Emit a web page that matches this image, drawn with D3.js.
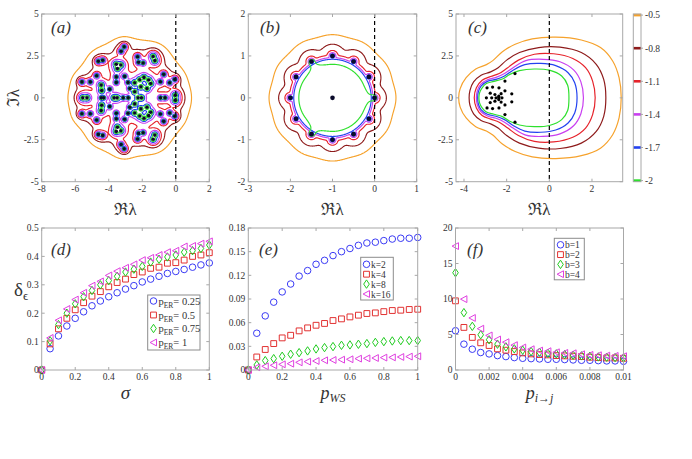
<!DOCTYPE html>
<html><head><meta charset="utf-8">
<script src="https://cdn.jsdelivr.net/npm/d3@7"></script>
<style>
body{margin:0;background:#fff}
svg{display:block}
svg text{font-family:"Liberation Serif","Times New Roman","DejaVu Serif",serif;fill:#333}
</style>
</head><body>
<svg id="c" width="692" height="459" font-family="Liberation Serif, Times New Roman, DejaVu Serif, serif"></svg>
<script>
// ---------------- DATA ----------------
const levels = [-0.5, -0.8, -1.1, -1.4, -1.7, -2];
const levelLabels = ["-0.5", "-0.8", "-1.1", "-1.4", "-1.7", "-2"];

// panel (a): eigenvalues (upper half; mirrored) and real ones
const eigAUpper = [
  [-3.08,3.04],[-3.26,2.78],[-4.62,2.18],[-4.36,2.24],
  [-2.28,2.45],[-2.22,2.12],[-1.95,2.08],
  [-5.6,0.95],[-5.1,0.95],[-4.72,1.32],[-3.94,0.52],
  [-3.55,1.25],[-3.55,0.92],[-3.05,1.28],[-2.85,0.92],[-2.74,0.56],
  [-0.72,1.4],[-0.36,0.9],[-0.06,1.1],[-0.92,0.96]
];
const eigAReal = [-4.45,-4.3,-3.14,-2.84,-0.91,-0.64];
// eigenvalues sitting inside the green (most sensitive) clusters
const eigAClusterUpper = [
  [-3.55,2.0],[-3.28,1.96],[-3.48,1.75],[-1.35,2.47],[-1.25,2.22],
  [-4.45,0.76],[-4.42,0.44],[-2.45,0.9],[-2.45,0.36],[-2.15,1.08],[-1.9,1.22],
  [-1.62,1.06],[-2.08,0.66],[-1.72,0.56],[-1.5,0.86],[-0.03,0.15]
];
const eigAClusterReal = [-5.55,-5.3,-3.68,-3.5,-2.25,-2.05];
const aClusterWeight = 1.45;
// field exponent per level, and right-side real-axis crossings (outer levels) / radii (inner levels)
const aPow = [2, 2.5, 3, 4, 4, 4];
const aCross = [0.94, 0.55, 0.38];
const aInner = [0.19, 0.13, 0.088];

// panel (b): eigenvalues
const eigB = [
  [-1,0],[0,0],[-0.134,0.5],[-0.5,0.866],[-1,1],[-1.5,0.866],[-1.866,0.5],
  [-2,0],[-1.866,-0.5],[-1.5,-0.866],[-1,-1],[-0.5,-0.866],[-0.134,-0.5]
];
const eigBGreen = [[0,0],[-1.5,0.866],[-1.5,-0.866]];
const bCenter = [-1, 0];
const bDisk = [1.32, 1.13, 1.02, 0.96, 0.92, 0.8];
const bRad = [0.45, 0.27, 0.13, 0.08, 0.05, 0.03];

// panel (c): contour outlines (upper half, right to left; mirrored)
const cContours = [
  [[3.37,0],[3.27,1.2],[2.97,2.2],[2.4,3.0],[1.5,3.45],[0.3,3.62],[-0.8,3.52],[-1.6,3.2],[-2.2,2.75],[-2.65,2.22],[-2.95,1.98],[-3.45,1.72],[-3.9,1.2],[-4.18,0.55],[-4.25,0]],
  [[2.65,0],[2.55,1.1],[2.2,2.0],[1.5,2.7],[0.5,3.02],[-0.5,3.0],[-1.4,2.7],[-2.0,2.25],[-2.4,1.8],[-2.75,1.55],[-3.2,1.35],[-3.55,0.95],[-3.72,0.45],[-3.76,0]],
  [[2.15,0],[2.03,1.0],[1.7,1.8],[1.1,2.35],[0.2,2.63],[-0.7,2.6],[-1.45,2.25],[-1.95,1.8],[-2.35,1.45],[-2.75,1.27],[-3.15,1.05],[-3.42,0.6],[-3.52,0]],
  [[1.6,0],[1.48,0.95],[1.15,1.65],[0.5,2.15],[-0.3,2.3],[-1.1,2.22],[-1.7,1.8],[-2.1,1.45],[-2.5,1.22],[-2.9,1.08],[-3.22,0.8],[-3.38,0.4],[-3.42,0]],
  [[1.3,0],[1.19,0.9],[0.88,1.5],[0.3,1.92],[-0.4,2.05],[-1.15,1.98],[-1.7,1.65],[-2.1,1.3],[-2.5,1.1],[-2.9,0.98],[-3.2,0.7],[-3.33,0.35],[-3.36,0]],
  [[0.92,0],[0.86,0.75],[0.58,1.3],[0.0,1.65],[-0.7,1.72],[-1.4,1.62],[-1.85,1.4],[-2.2,1.12],[-2.6,0.98],[-2.95,0.85],[-3.15,0.6],[-3.27,0.3],[-3.3,0]]
];
const eigCUpper = [[-2.92,0.6],[-2.66,0.64],[-2.36,0.6],[-2.77,0.28],[-2.55,0.2],[-2.26,0.25],[-1.76,0.24],[-2.08,0.42],[-2.08,1.0],[-1.61,1.45],[-2.37,0.1]];
const eigCReal = [-2.95,-2.7,-2.5,-2.37,-2.22];

// panel (d)
const sigma = d3.range(21).map(i => i/20);
const dSeries = [
  [0,0.075,0.12,0.155,0.182,0.205,0.226,0.243,0.258,0.272,0.285,0.297,0.31,0.32,0.33,0.34,0.347,0.354,0.362,0.37,0.377],
  [0,0.092,0.145,0.182,0.212,0.237,0.26,0.276,0.293,0.308,0.32,0.336,0.345,0.358,0.362,0.376,0.378,0.387,0.4,0.405,0.413],
  [0,0.103,0.16,0.2,0.233,0.258,0.28,0.3,0.315,0.33,0.345,0.355,0.365,0.38,0.39,0.398,0.405,0.415,0.42,0.428,0.44],
  [0,0.113,0.175,0.215,0.248,0.272,0.297,0.312,0.333,0.348,0.36,0.372,0.387,0.395,0.405,0.415,0.42,0.435,0.437,0.445,0.453]
];
const dLegend = ["0.25","0.5","0.75","1"];

// panel (e)
const pws = d3.range(21).map(i => i/20);
const eSeries = [
  [0,0.0466,0.0686,0.086,0.099,0.109,0.119,0.126,0.134,0.139,0.145,0.15,0.154,0.158,0.161,0.162,0.164,0.166,0.167,0.167,0.168],
  [0,0.0165,0.026,0.0335,0.0407,0.044,0.0496,0.0534,0.0567,0.059,0.0627,0.0648,0.0673,0.0695,0.0716,0.0724,0.074,0.0754,0.0758,0.0767,0.077],
  [0,0.0064,0.0119,0.0144,0.0174,0.02,0.022,0.0242,0.0267,0.0284,0.0297,0.0313,0.0318,0.0326,0.0335,0.035,0.036,0.0368,0.0373,0.0373,0.0373],
  [0,0.0034,0.0047,0.006,0.0072,0.008,0.0097,0.0106,0.0114,0.0123,0.0127,0.0131,0.0136,0.0144,0.0148,0.0152,0.0157,0.016,0.0165,0.017,0.0174]
];
const eLegend = ["k=2","k=4","k=8","k=16"];

// panel (f)
const pij = d3.range(21).map(i => i*0.0005);
const fSeries = [
  [5.53,3.64,2.93,2.46,2.27,2.03,1.89,1.75,1.65,1.6,1.56,1.51,1.51,1.47,1.42,1.37,1.37,1.32,1.28,1.28,1.23],
  [9.74,6.0,4.59,3.83,3.45,2.98,2.79,2.6,2.41,2.27,2.17,2.13,2.03,1.99,1.94,1.89,1.8,1.75,1.7,1.7,1.65],
  [13.7,8.08,6.15,4.96,4.26,3.64,3.26,2.98,2.79,2.6,2.5,2.36,2.27,2.17,2.08,1.99,1.94,1.84,1.8,1.75,1.7],
  [17.45,9.98,7.33,5.82,4.87,4.3,3.92,3.5,3.17,2.93,2.74,2.65,2.5,2.41,2.36,2.22,2.13,2.08,2.03,1.99,1.94]
];
const fLegend = ["b=1","b=2","b=3","b=4"];

// ---------------- STYLE ----------------
const levelColors = ["#f6a22c","#8e1b1b","#e6232b","#c93ff0","#2342f0","#2ee02e"];
const serColors = ["#3b3bf5","#e23232","#20cc20","#e040e0"];
const boxColor = "#a8a8a8";
const FONT = "Liberation Serif, Times New Roman, DejaVu Serif, serif";

const svg = d3.select("#c");
function txt(g, x, y, s, size, opts={}) {
  const t = g.append("text").attr("x",x).attr("y",y).attr("font-size",size).attr("font-family",FONT).attr("fill",opts.fill||"#333");
  if (opts.anchor) t.attr("text-anchor",opts.anchor);
  if (opts.italic) t.attr("font-style","italic");
  if (s!==null) t.text(s);
  return t;
}

function frame(g, xs, ys, xt, yt, fx, fy) {
  const [x0,x1] = xs.range(), [yb,yt0] = ys.range();
  g.append("rect").attr("x",x0).attr("y",yt0).attr("width",x1-x0).attr("height",yb-yt0)
    .attr("fill","none").attr("stroke",boxColor).attr("stroke-width",1);
  xt.forEach((v,i) => {
    const x = xs(v);
    g.append("line").attr("x1",x).attr("x2",x).attr("y1",yb).attr("y2",yb-3).attr("stroke",boxColor);
    g.append("line").attr("x1",x).attr("x2",x).attr("y1",yt0).attr("y2",yt0+3).attr("stroke",boxColor);
    txt(g, x, yb+10.2, fx[i], 9.5, {anchor:"middle"});
  });
  yt.forEach((v,i) => {
    const y = ys(v);
    g.append("line").attr("x1",x0).attr("x2",x0+3).attr("y1",y).attr("y2",y).attr("stroke",boxColor);
    g.append("line").attr("x1",x1).attr("x2",x1-3).attr("y1",y).attr("y2",y).attr("stroke",boxColor);
    txt(g, x0-3, y+3.3, fy[i], 9.5, {anchor:"end"});
  });
}

function contourPath(g, xs, ys, xd, yd, n, vals, t, color, clipId) {
  const dx = (xd[1]-xd[0])/n, dy = (yd[1]-yd[0])/n;
  const proj = d3.geoTransform({point(px,py){ this.stream.point(xs(xd[0]+px*dx), ys(yd[1]-py*dy)); }});
  const c = d3.contours().size([n,n]).thresholds([t])(vals)[0];
  g.append("path").attr("d", d3.geoPath(proj)(c)).attr("fill","none").attr("stroke",color)
    .attr("stroke-width",1.15).attr("clip-path",`url(#${clipId})`);
}

function addClip(id, xs, ys) {
  const [x0,x1] = xs.range(), [yb,yt0] = ys.range();
  svg.append("clipPath").attr("id",id).append("rect").attr("x",x0).attr("y",yt0).attr("width",x1-x0).attr("height",yb-yt0);
}

function dashedZero(g, xs, ys) {
  const [yb,yt0] = ys.range();
  g.append("line").attr("x1",xs(0)).attr("x2",xs(0)).attr("y1",yt0).attr("y2",yb)
    .attr("stroke","#000").attr("stroke-width",1.2).attr("stroke-dasharray","4,3");
}

// weighted p-norm soft distance to a set of points [x,y,w]
function softDist(x, y, pts, p) {
  let s = 0;
  for (const e of pts) {
    const ux=x-e[0], uy=y-e[1]; const r2=ux*ux+uy*uy+1e-12;
    const w = e[2]===undefined ? 1 : e[2];
    s += Math.pow(r2/(w*w), -p/2);
  }
  return Math.pow(s, -1/p);
}

// ---------------- PANEL (a) ----------------
{
  const xs = d3.scaleLinear().domain([-8,2]).range([41.7,209.3]);
  const ys = d3.scaleLinear().domain([-5,5]).range([181.7,14]);
  const g = svg.append("g");
  addClip("clipA", xs, ys);
  const mirror = (up, re, w) => up.map(d=>[d[0],d[1],w]).concat(up.map(d=>[d[0],-d[1],w])).concat(re.map(x=>[x,0,w]));
  const eigA = mirror(eigAUpper, eigAReal, 1).concat(mirror(eigAClusterUpper, eigAClusterReal, aClusterWeight));
  const xd=[-7.5,1.8], yd=[-4.65,4.65], n=260;
  const ddx=(xd[1]-xd[0])/n, ddy=(yd[1]-yd[0])/n;
  const pset = Array.from(new Set(aPow));
  const grids = {};
  pset.forEach(p => grids[p] = new Float64Array(n*n));
  for (let j=0;j<n;j++) for (let i=0;i<n;i++) {
    const x=xd[0]+(i+0.5)*ddx, y=yd[1]-(j+0.5)*ddy;
    const sums = pset.map(()=>0);
    for (const e of eigA) {
      const ux=x-e[0], uy=y-e[1]; const r2=(ux*ux+uy*uy+1e-12)/(e[2]*e[2]);
      const r=Math.sqrt(r2), rq=Math.sqrt(r);
      pset.forEach((p,m) => {
        sums[m] += p===2 ? 1/r2 : p===2.5 ? 1/(r2*rq) : p===3 ? 1/(r2*r) : 1/(r2*r2);
      });
    }
    pset.forEach((p,m) => grids[p][j*n+i] = -Math.pow(sums[m], -1/p));
  }
  aPow.forEach((p,k) => {
    const thr = k < aCross.length ? softDist(aCross[k], 0, eigA, p) : aInner[k-aCross.length];
    contourPath(g, xs, ys, xd, yd, n, grids[p], -thr, levelColors[k], "clipA");
  });
  dashedZero(g, xs, ys);
  g.selectAll("circle.e").data(eigA).join("circle").attr("cx",d=>xs(d[0])).attr("cy",d=>ys(d[1])).attr("r",1.8).attr("fill","#0a0a2a");
  frame(g, xs, ys, [-8,-6,-4,-2,0,2], [-5,-2.5,0,2.5,5], ["-8","-6","-4","-2","0","2"], ["-5","-2.5","0","2.5","5"]);
  txt(g, 51, 33, "(a)", 17, {italic:true, fill:"#222"});
}

// ---------------- PANEL (b) ----------------
{
  const xs = d3.scaleLinear().domain([-3,1]).range([248.3,416.7]);
  const ys = d3.scaleLinear().domain([-2,2]).range([181.7,14]);
  const g = svg.append("g");
  addClip("clipB", xs, ys);
  const xd=[-3,1], yd=[-2,2], n=280;
  const ddx=(xd[1]-xd[0])/n, ddy=(yd[1]-yd[0])/n;
  const eg = new Float64Array(n*n), gg = new Float64Array(n*n), rg = new Float64Array(n*n);
  for (let j=0;j<n;j++) for (let i=0;i<n;i++){
    const x=xd[0]+(i+0.5)*ddx, y=yd[1]-(j+0.5)*ddy;
    eg[j*n+i]=softDist(x,y,eigB,3.5);
    gg[j*n+i]=softDist(x,y,eigBGreen,6);
    rg[j*n+i]=Math.hypot(x-bCenter[0], y-bCenter[1]);
  }
  function smin(a,b,k){ const h=Math.max(k-Math.abs(a-b),0)/k; return Math.min(a,b)-h*h*k/4; }
  levels.forEach((lv,k) => {
    const v = new Float64Array(n*n);
    const last = k === levels.length-1;
    for (let q=0;q<n*n;q++) v[q] = last ? -smin(rg[q]-bDisk[k], gg[q]-bRad[k], 0.4)
                                        : -smin(rg[q]-bDisk[k], eg[q]-bRad[k], 0.04);
    contourPath(g, xs, ys, xd, yd, n, v, 0, levelColors[k], "clipB");
  });
  dashedZero(g, xs, ys);
  g.selectAll("circle.e").data(eigB).join("circle").attr("cx",d=>xs(d[0])).attr("cy",d=>ys(d[1])).attr("r",2.3).attr("fill","#0a0a2a");
  frame(g, xs, ys, [-3,-2,-1,0,1], [-2,-1,0,1,2], ["-3","-2","-1","0","1"], ["-2","-1","0","1","2"]);
  txt(g, 260, 33, "(b)", 17, {italic:true, fill:"#222"});
}

// ---------------- PANEL (c) ----------------
{
  const xs = d3.scaleLinear().domain([-4.375,3.44]).range([456,622.7]);
  const ys = d3.scaleLinear().domain([-5,5]).range([181.7,14]);
  const g = svg.append("g");
  const line = d3.line().x(d=>xs(d[0])).y(d=>ys(d[1])).curve(d3.curveCatmullRomClosed.alpha(0.5));
  cContours.forEach((pts,k) => {
    const lower = pts.slice(1, pts.length-1).reverse().map(d=>[d[0],-d[1]]);
    g.append("path").attr("d", line(pts.concat(lower))).attr("fill","none").attr("stroke",levelColors[k]).attr("stroke-width",1.2);
  });
  dashedZero(g, xs, ys);
  const eigC = eigCUpper.concat(eigCUpper.map(d=>[d[0],-d[1]])).concat(eigCReal.map(x=>[x,0]));
  g.selectAll("circle.e").data(eigC).join("circle").attr("cx",d=>xs(d[0])).attr("cy",d=>ys(d[1])).attr("r",1.6).attr("fill","#000");
  frame(g, xs, ys, [-4,-2,0,2], [-5,-2.5,0,2.5,5], ["-4","-2","0","2"], ["-5","-2.5","0","2.5","5"]);
  txt(g, 468, 33, "(c)", 17, {italic:true, fill:"#222"});

  // colorbar
  const cb = d3.scaleLinear().domain([-2.01,-0.49]).range([181.7,14]);
  const cbx0 = 633.3, cbx1 = 641;
  levels.forEach((v,k) => {
    g.append("line").attr("x1",cbx0).attr("x2",cbx1).attr("y1",cb(v)).attr("y2",cb(v)).attr("stroke",levelColors[k]).attr("stroke-width",2.6);
    g.append("line").attr("x1",cbx1).attr("x2",cbx1+2).attr("y1",cb(v)).attr("y2",cb(v)).attr("stroke",boxColor);
    txt(g, cbx1+4, cb(v)+3.3, levelLabels[k], 9.5);
  });
  g.append("rect").attr("x",cbx0).attr("y",14).attr("width",cbx1-cbx0).attr("height",181.7-14).attr("fill","none").attr("stroke",boxColor);
}

// axis titles top row
[125.5, 332.5, 539.3].forEach(x => txt(svg, x, 215, "ℜλ", 17, {anchor:"middle", fill:"#222"}));
txt(svg, 0, 0, "ℑλ", 17, {anchor:"middle", fill:"#222"}).attr("transform","translate(19,98) rotate(-90)");

// ---------------- markers ----------------
function markerPath(type) {
  if (type===0) return d3.symbol(d3.symbolCircle, 34)();
  if (type===1) return d3.symbol(d3.symbolSquare, 34)();
  if (type===2) return "M0,-4.2L2.8,0L0,4.2L-2.8,0Z";
  return "M-3.4,0L3,-3.4L3,3.4Z";
}

function scatterPanel(xs, ys, xv, series) {
  const g = svg.append("g");
  series.forEach((vals,k) => {
    g.selectAll(null).data(vals.map((v,i)=>[xv[i],v])).join("path")
      .attr("d", markerPath(k)).attr("transform", d=>`translate(${xs(d[0])},${ys(d[1])})`)
      .attr("fill","none").attr("stroke",serColors[k]).attr("stroke-width",1);
  });
  return g;
}

function legend(g, x0, y0, w, h, rows, mx, tx, fs, labelFn) {
  g.append("rect").attr("x",x0).attr("y",y0).attr("width",w).attr("height",h).attr("fill","#fff").attr("stroke","#8c8c8c");
  rows.forEach((ry,k) => {
    g.append("path").attr("d",markerPath(k)).attr("transform",`translate(${mx},${ry})`).attr("fill","none").attr("stroke",serColors[k]);
    labelFn(txt(g, tx, ry+3.5, null, fs), k);
  });
}

// ---------------- PANEL (d) ----------------
{
  const xs = d3.scaleLinear().domain([0,1]).range([41.7,209.3]);
  const ys = d3.scaleLinear().domain([0,0.5]).range([370,228]);
  const g = scatterPanel(xs, ys, sigma, dSeries);
  frame(g, xs, ys, [0,0.2,0.4,0.6,0.8,1], [0,0.1,0.2,0.3,0.4,0.5], ["0","0.2","0.4","0.6","0.8","1"], ["0","0.1","0.2","0.3","0.4","0.5"]);
  legend(g, 147.7, 295, 52.3, 55, [301,315,328.5,342.5], 153.5, 158.5, 10.5, (t,k) => {
    t.append("tspan").text("p");
    t.append("tspan").attr("dy",3).attr("font-size",7.5).text("ER");
    t.append("tspan").attr("dy",-3).text("= " + dLegend[k]);
  });
  txt(g, 51, 255, "(d)", 17, {italic:true, fill:"#222"});
  txt(g, 125.5, 398.5, "σ", 19, {anchor:"middle", italic:true, fill:"#222"});
  const t = txt(g, 14, 296, null, 19, {fill:"#222"});
  t.append("tspan").text("δ");
  t.append("tspan").attr("dy",4).attr("font-size",13).text("ϵ");
}

// ---------------- PANEL (e) ----------------
{
  const xs = d3.scaleLinear().domain([0,1]).range([248.3,417.7]);
  const ys = d3.scaleLinear().domain([0,0.18]).range([370,228]);
  const g = scatterPanel(xs, ys, pws, eSeries);
  frame(g, xs, ys, [0,0.2,0.4,0.6,0.8,1], [0,0.03,0.06,0.09,0.12,0.15,0.18], ["0","0.2","0.4","0.6","0.8","1"], ["0","0.03","0.06","0.09","0.12","0.15","0.18"]);
  legend(g, 360.7, 257.3, 32.6, 42.7, [264.3,274.2,284.1,294], 366.5, 371, 9.5, (t,k) => t.text(eLegend[k]));
  txt(g, 259, 255, "(e)", 17, {italic:true, fill:"#222"});
  const t = txt(g, 333, 398.5, null, 18, {anchor:"middle", italic:true, fill:"#222"});
  t.append("tspan").text("p");
  t.append("tspan").attr("dy",3).attr("font-size",12).text("WS");
}

// ---------------- PANEL (f) ----------------
{
  const xs = d3.scaleLinear().domain([0,0.01]).range([455.5,623.5]);
  const ys = d3.scaleLinear().domain([0,20]).range([370,228]);
  const g = scatterPanel(xs, ys, pij, fSeries);
  frame(g, xs, ys, [0,0.002,0.004,0.006,0.008,0.01], [0,5,10,15,20], ["0","0.002","0.004","0.006","0.008","0.01"], ["0","5","10","15","20"]);
  legend(g, 554.3, 238.3, 30, 41.5, [244.8,254.6,264.4,274.2], 560.5, 565, 9.5, (t,k) => t.text(fLegend[k]));
  txt(g, 467, 255, "(f)", 17, {italic:true, fill:"#222"});
  const t = txt(g, 539.5, 398.5, null, 18, {anchor:"middle", italic:true, fill:"#222"});
  t.append("tspan").text("p");
  t.append("tspan").attr("dy",3).attr("font-size",12).text("i→j");
}
</script>
</body></html>
